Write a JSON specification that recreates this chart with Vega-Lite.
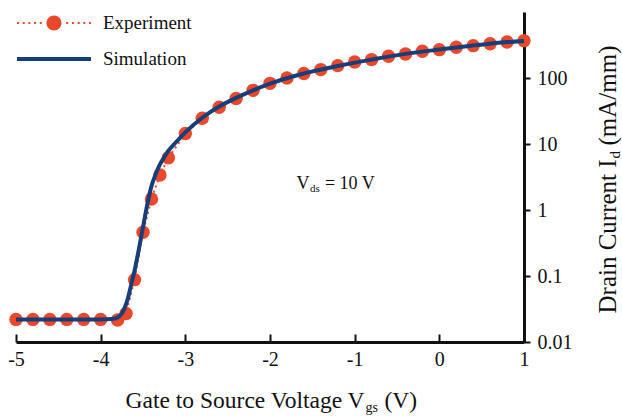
{
  "$schema": "https://vega.github.io/schema/vega-lite/v6.json",
  "width": 508,
  "height": 330,
  "autosize": "none",
  "padding": {"left": 16, "top": 12, "right": 98, "bottom": 74},
  "background": "white",
  "datasets": {
    "exp": [
      {"x": -5.0, "y": 0.022}, {"x": -4.8, "y": 0.022}, {"x": -4.6, "y": 0.022}, {"x": -4.4, "y": 0.022},
      {"x": -4.2, "y": 0.022}, {"x": -4.0, "y": 0.022}, {"x": -3.8, "y": 0.0215}, {"x": -3.7, "y": 0.027},
      {"x": -3.6, "y": 0.088}, {"x": -3.5, "y": 0.46}, {"x": -3.4, "y": 1.47}, {"x": -3.3, "y": 3.4},
      {"x": -3.2, "y": 6.2}, {"x": -3.0, "y": 14.4}, {"x": -2.8, "y": 24.5}, {"x": -2.6, "y": 36},
      {"x": -2.4, "y": 49}, {"x": -2.2, "y": 65}, {"x": -2.0, "y": 83}, {"x": -1.8, "y": 100},
      {"x": -1.6, "y": 117}, {"x": -1.4, "y": 134}, {"x": -1.2, "y": 154}, {"x": -1.0, "y": 175},
      {"x": -0.8, "y": 190}, {"x": -0.6, "y": 213}, {"x": -0.4, "y": 231}, {"x": -0.2, "y": 254},
      {"x": 0.0, "y": 269}, {"x": 0.2, "y": 292}, {"x": 0.4, "y": 309}, {"x": 0.6, "y": 331},
      {"x": 0.8, "y": 351}, {"x": 1.0, "y": 368}
    ],
    "sim": [
      {"x": -5.0, "y": 0.022}, {"x": -4.5, "y": 0.022}, {"x": -4.0, "y": 0.022}, {"x": -3.85, "y": 0.0225},
      {"x": -3.8, "y": 0.0235}, {"x": -3.75, "y": 0.027}, {"x": -3.72, "y": 0.032}, {"x": -3.68, "y": 0.045},
      {"x": -3.65, "y": 0.065}, {"x": -3.6, "y": 0.12}, {"x": -3.55, "y": 0.25}, {"x": -3.5, "y": 0.55},
      {"x": -3.45, "y": 1.2}, {"x": -3.4, "y": 2.3}, {"x": -3.35, "y": 3.5}, {"x": -3.3, "y": 4.9},
      {"x": -3.25, "y": 6.3}, {"x": -3.2, "y": 7.9}, {"x": -3.1, "y": 11}, {"x": -3.0, "y": 15},
      {"x": -2.8, "y": 25}, {"x": -2.6, "y": 37}, {"x": -2.4, "y": 50}, {"x": -2.2, "y": 65},
      {"x": -2.0, "y": 82}, {"x": -1.6, "y": 117}, {"x": -1.2, "y": 152}, {"x": -0.8, "y": 190},
      {"x": -0.4, "y": 232}, {"x": 0.0, "y": 270}, {"x": 0.4, "y": 310}, {"x": 0.8, "y": 350},
      {"x": 1.0, "y": 365}
    ]
  },
  "layer": [
    {
      "data": {"name": "exp"},
      "mark": {"type": "line", "strokeWidth": 2, "strokeDash": [2, 3.5], "clip": false},
      "encoding": {
        "x": {
          "field": "x", "type": "quantitative",
          "scale": {"domain": [-5, 1], "nice": false, "zero": false},
          "axis": {
            "orient": "bottom", "values": [-5, -4, -3, -2, -1, 0, 1], "labelExpr": "'' + datum.value",
            "labelFontSize": 20, "labelPadding": 15, "tickSize": -8, "tickWidth": 2, "domainWidth": 3,
            "labelFlush": false, "labelOverlap": false,
            "title": "Gate to Source Voltage V", "titleFontSize": 23.5, "titleAlign": "right",
            "titleBaseline": "alphabetic", "titleX": 348, "titleY": 65, "titleAngle": 0
          }
        },
        "y": {
          "field": "y", "type": "quantitative",
          "scale": {"type": "log", "domain": [0.01, 1000], "nice": false},
          "axis": {
            "orient": "right", "values": [0.01, 0.1, 1, 10, 100], "format": "~g",
            "labelFontSize": 20, "labelPadding": 7, "tickSize": 6, "tickWidth": 2, "domainWidth": 3,
            "labelAlign": "left", "labelBaseline": "middle", "labelFlush": false, "labelOverlap": false,
            "title": "Drain Current I", "titleFontSize": 25, "titleAngle": 270, "titleAlign": "left",
            "titleBaseline": "alphabetic", "titleX": 91, "titleY": 301
          }
        },
        "color": {
          "datum": "Experiment",
          "scale": {"domain": ["Experiment", "Simulation"], "range": ["#e9492a", "#173e7a"]},
          "legend": {
            "orient": "none", "legendX": 1, "legendY": -1, "title": null, "padding": 0,
            "symbolSize": 5476, "symbolStrokeWidth": 0, "symbolOffset": 0, "clipHeight": 24,
            "labelFont": "Liberation Serif", "labelFontSize": 19, "labelColor": "#111",
            "labelOffset": 12, "rowPadding": 12, "symbolOpacity": 1,
            "encode": {
              "symbols": {
                "update": {
                  "shape": {"signal": "datum.value === 'Experiment' ? 'M-1,-0.027h0.054v0.054h-0.054zM-0.846,-0.027h0.054v0.054h-0.054zM-0.692,-0.027h0.054v0.054h-0.054zM-0.538,-0.027h0.054v0.054h-0.054zM-0.384,-0.027h0.054v0.054h-0.054zM0.33,-0.027h0.054v0.054h-0.054zM0.484,-0.027h0.054v0.054h-0.054zM0.638,-0.027h0.054v0.054h-0.054zM0.792,-0.027h0.054v0.054h-0.054zM0.946,-0.027h0.054v0.054h-0.054zM-0.203,0A0.203,0.203,0,1,1,0.203,0A0.203,0.203,0,1,1,-0.203,0Z' : 'M-1,-0.054H1V0.054H-1Z'"},
                  "fill": {"scale": "color", "field": "value"},
                  "stroke": {"value": "transparent"},
                  "opacity": {"value": 1}
                }
              }
            }
          }
        }
      }
    },
    {
      "data": {"name": "exp"},
      "mark": {"type": "point", "filled": true, "size": 180, "opacity": 1, "strokeWidth": 0, "clip": false},
      "encoding": {
        "x": {
          "field": "x", "type": "quantitative",
          "axis": {
            "orient": "bottom", "domain": false, "ticks": false, "labels": false, "grid": false,
            "title": "gs", "titleFontSize": 14, "titleAlign": "left", "titleBaseline": "alphabetic",
            "titleX": 349, "titleY": 69, "titleAngle": 0
          }
        },
        "y": {
          "field": "y", "type": "quantitative",
          "axis": {
            "orient": "right", "domain": false, "ticks": false, "labels": false, "grid": false,
            "title": "d", "titleFontSize": 15, "titleAngle": 270, "titleAlign": "left",
            "titleBaseline": "alphabetic", "titleX": 95, "titleY": 146
          }
        },
        "color": {"datum": "Experiment"}
      }
    },
    {
      "data": {"name": "sim"},
      "mark": {"type": "line", "strokeWidth": 4, "interpolate": "monotone", "clip": false},
      "encoding": {
        "x": {
          "field": "x", "type": "quantitative",
          "axis": {
            "orient": "bottom", "domain": false, "ticks": false, "labels": false, "grid": false,
            "title": "(V)", "titleFontSize": 23.5, "titleAlign": "left", "titleBaseline": "alphabetic",
            "titleX": 368, "titleY": 65, "titleAngle": 0
          }
        },
        "y": {
          "field": "y", "type": "quantitative",
          "axis": {
            "orient": "right", "domain": false, "ticks": false, "labels": false, "grid": false,
            "title": "(mA/mm)", "titleFontSize": 25, "titleAngle": 270, "titleAlign": "left",
            "titleBaseline": "alphabetic", "titleX": 91, "titleY": 133
          }
        },
        "color": {"datum": "Simulation"}
      }
    },
    {
      "data": {"values": [{}]},
      "mark": {"type": "text", "text": "V", "font": "Liberation Serif", "fontSize": 18, "align": "left", "baseline": "alphabetic", "color": "#111"},
      "encoding": {
        "x": {"datum": -1.686, "type": "quantitative", "axis": null},
        "y": {"datum": 2.1, "type": "quantitative", "axis": null}
      }
    },
    {
      "data": {"values": [{}]},
      "mark": {"type": "text", "text": "ds", "font": "Liberation Serif", "fontSize": 11, "align": "left", "baseline": "alphabetic", "dx": 13.3, "dy": 3, "color": "#111"},
      "encoding": {
        "x": {"datum": -1.686, "type": "quantitative", "axis": null},
        "y": {"datum": 2.1, "type": "quantitative", "axis": null}
      }
    },
    {
      "data": {"values": [{}]},
      "mark": {"type": "text", "text": "= 10 V", "font": "Liberation Serif", "fontSize": 18, "align": "left", "baseline": "alphabetic", "dx": 28.3, "color": "#111"},
      "encoding": {
        "x": {"datum": -1.686, "type": "quantitative", "axis": null},
        "y": {"datum": 2.1, "type": "quantitative", "axis": null}
      }
    }
  ],
  "resolve": {"axis": {"x": "independent", "y": "independent"}},
  "config": {
    "view": {"stroke": null},
    "axis": {
      "grid": false, "titleFontWeight": "normal", "labelFont": "Liberation Serif", "titleFont": "Liberation Serif",
      "domainColor": "#111", "tickColor": "#111", "labelColor": "#111", "titleColor": "#111"
    }
  }
}
